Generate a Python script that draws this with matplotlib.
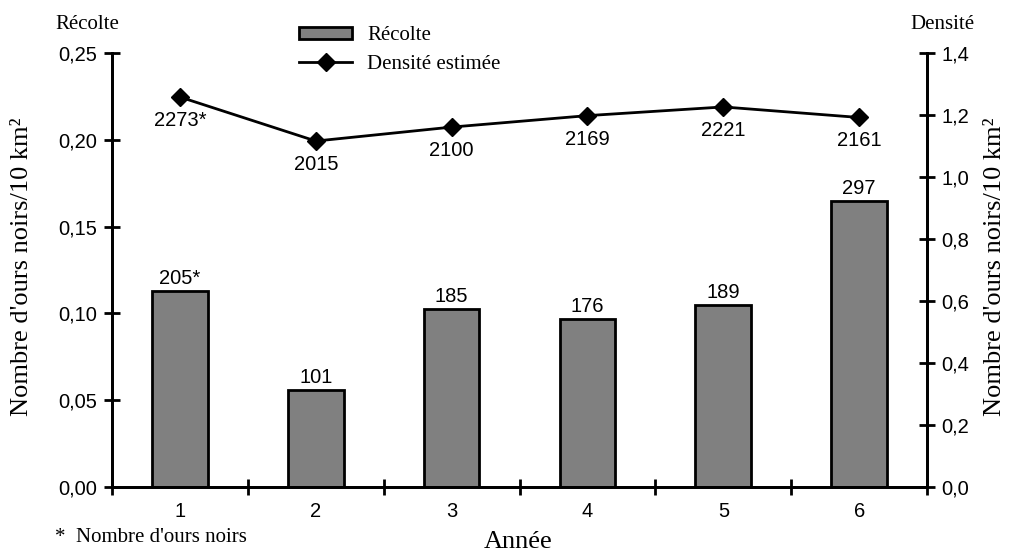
import matplotlib.pyplot as plt
import numpy as np

annees = ["1", "2", "3", "4", "5", "6"]
recolte = [0.113, 0.056, 0.1025, 0.097, 0.105, 0.165]
recolte_lbl = ["205*", "101", "185", "176", "189", "297"]
densite = [1.258, 1.116, 1.161, 1.198, 1.226, 1.192]
densite_lbl = ["2273*", "2015", "2100", "2169", "2221", "2161"]
yticks_g = [0.0, 0.05, 0.10, 0.15, 0.20, 0.25]
yticks_d = [0.0, 0.2, 0.4, 0.6, 0.8, 1.0, 1.2, 1.4]

SANS = "Liberation Sans"
SERIF = "Liberation Serif"
FS = 14.5

fig = plt.figure(figsize=(10.11, 5.51), dpi=100)
ax = fig.add_axes([0.1108, 0.1162, 0.8062, 0.7876])
ax2 = ax.twinx()

x = np.arange(len(annees))
bars = ax.bar(x, recolte, width=0.41, color="#808080", edgecolor="black",
              linewidth=2, label="Récolte", zorder=2)
for xi, v, t in zip(x, recolte, recolte_lbl):
    ax.annotate(t, (xi, v), xytext=(0, 2), textcoords="offset points",
                ha="center", va="bottom", fontsize=FS, family=SANS)

ax.set_xlim(-0.5, 5.5)
ax.set_ylim(0, 0.25)
ax.set_yticks(yticks_g)
ax.set_yticklabels([f"{v:.2f}".replace(".", ",") for v in yticks_g],
                   family=SANS, fontsize=FS)
ax.set_xticks(np.arange(-0.5, 5.6, 1))
ax.set_xticklabels([])
ax.set_xticks(x, minor=True)
ax.set_xticklabels(annees, minor=True, family=SANS, fontsize=FS)
ax.tick_params(axis="x", which="minor", length=0, pad=11)
ax.tick_params(axis="both", which="major", direction="inout", length=11, width=2)
ax.tick_params(axis="y", pad=5)

line, = ax2.plot(x, densite, color="black", marker="D", markersize=9,
                 linewidth=2, label="Densité estimée", zorder=3)
for xi, v, t in zip(x, densite, densite_lbl):
    ax2.annotate(t, (xi, v), xytext=(0, -10), textcoords="offset points",
                 ha="center", va="top", fontsize=FS, family=SANS)
ax2.set_ylim(0, 1.4)
ax2.set_yticks(yticks_d)
ax2.set_yticklabels([f"{v:.1f}".replace(".", ",") for v in yticks_d],
                    family=SANS, fontsize=FS)
ax2.tick_params(axis="y", direction="inout", length=11, width=2, pad=5)

for a in (ax, ax2):
    a.spines["top"].set_visible(False)
    for s in ("left", "right", "bottom"):
        a.spines[s].set_linewidth(2)

ylab = "Nombre d'ours noirs/10 km²"
fig.text(0.0218, 0.516, ylab, family=SERIF, fontsize=19, rotation=90,
         ha="center", va="center")
fig.text(0.984, 0.516, ylab, family=SERIF, fontsize=19, rotation=90,
         ha="center", va="center")
fig.text(0.512, 0.0163, "Année", family=SERIF, fontsize=19,
         ha="center", va="center")

fig.text(0.0544, 0.956, "Récolte", family=SERIF, fontsize=15, ha="left", va="center")
fig.text(0.900, 0.956, "Densité", family=SERIF, fontsize=15, ha="left", va="center")
fig.text(0.0544, 0.0254, "*  Nombre d'ours noirs", family=SERIF, fontsize=15,
         ha="left", va="center")

fig.legend([bars, line], ["Récolte", "Densité estimée"],
           loc="upper left", bbox_to_anchor=(0.2957, 0.952), frameon=False,
           prop={"family": SERIF, "size": 15}, handlelength=2.55,
           handleheight=0.55, labelspacing=0.45, handletextpad=0.72,
           borderpad=0, borderaxespad=0)

fig.savefig("out.png", dpi=100)
